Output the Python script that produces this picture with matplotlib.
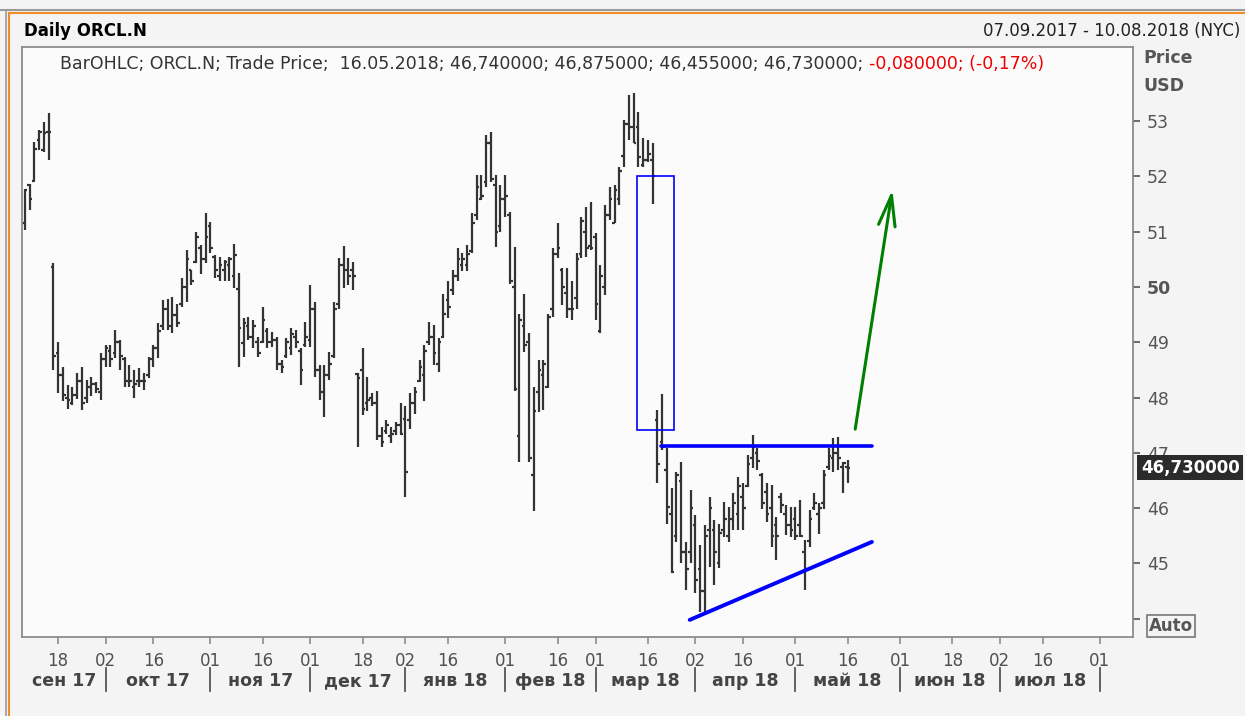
import matplotlib
matplotlib.use("Agg")
import matplotlib.pyplot as plt
from matplotlib.lines import Line2D
from matplotlib.patches import Rectangle
import numpy as np
import pandas as pd

# trading calendar of the chart (NYSE days)
first_day = "2017-09-07"
last_day = "2018-08-10"
nyse_holidays = ["2017-11-23", "2017-12-25", "2018-01-01", "2018-01-15",
                 "2018-02-19", "2018-03-30", "2018-05-28", "2018-07-04"]

# daily OHLC (07.09.2017 .. 16.05.2018)
opens = [51.15, 51.84, 51.92, 52.66, 52.48, 52.81, 50.37, 48.80, 48.40, 48.00,
         47.90, 48.05, 48.30, 48.00, 48.20, 48.25, 48.10, 48.70, 48.85, 48.80,
         49.00, 48.70, 48.30, 48.20, 48.30, 48.30, 48.40, 48.70, 48.90, 49.30,
         49.60, 49.30, 49.50, 49.70, 50.00, 50.30, 50.45, 50.70, 50.50, 51.10,
         50.55, 50.20, 50.30, 50.40, 50.20, 49.97, 48.98, 49.30, 49.10, 49.00,
         49.00, 49.20, 49.00, 49.05, 48.60, 48.75, 48.90, 49.10, 48.85, 48.95,
         49.05, 49.60, 48.50, 48.10, 48.40, 48.75, 49.70, 50.40, 50.30, 50.30,
         48.43, 48.50, 47.90, 48.00, 47.90, 47.30, 47.40, 47.30, 47.40, 47.50,
         47.62, 47.60, 47.90, 48.30, 48.40, 49.00, 49.10, 48.60, 49.10, 49.76,
         49.94, 50.20, 50.40, 50.40, 50.65, 51.30, 51.60, 51.90, 52.60, 51.85,
         51.10, 51.60, 51.30, 50.00, 47.30, 49.30, 49.00, 46.60, 48.10, 48.40,
         48.20, 49.60, 50.60, 50.30, 49.90, 49.60, 49.80, 50.60, 51.00, 50.75,
         50.90, 49.20, 50.00, 51.30, 51.15, 51.60, 52.36, 52.95, 52.90, 52.90,
         52.20, 52.30, 52.30, 47.60, 47.20, 46.69, 45.90, 45.50, 46.50, 45.20,
         45.20, 45.70, 44.90, 44.50, 45.60, 45.60, 45.00, 45.60, 45.50, 45.80,
         45.90, 46.20, 46.40, 46.90, 47.00, 46.60, 46.30, 46.00, 45.70, 46.20,
         45.90, 45.70, 45.80, 45.70, 45.20, 45.40, 46.00, 45.90, 46.10, 46.75,
         46.90, 47.00, 46.75, 46.74]
highs = [51.78, 51.87, 52.63, 52.84, 52.99, 53.14, 50.44, 49.01, 48.56, 48.23,
         48.20, 48.44, 48.56, 48.32, 48.38, 48.29, 48.80, 48.95, 48.95, 49.22,
         49.04, 48.74, 48.59, 48.50, 48.53, 48.44, 48.74, 48.95, 49.34, 49.76,
         49.79, 49.82, 49.70, 50.16, 50.67, 50.31, 51.00, 50.76, 51.33, 51.18,
         50.58, 50.55, 50.49, 50.55, 50.78, 50.25, 49.43, 49.46, 49.40, 49.10,
         49.64, 49.25, 49.19, 49.10, 48.68, 49.07, 49.25, 49.22, 48.89, 49.37,
         50.04, 49.73, 48.59, 48.59, 48.83, 49.73, 50.52, 50.74, 50.52, 50.46,
         48.44, 48.89, 48.38, 48.08, 48.11, 47.47, 47.59, 47.47, 47.56, 47.90,
         47.84, 48.08, 48.20, 48.68, 48.95, 49.37, 49.31, 49.07, 49.88, 50.10,
         50.30, 50.70, 50.61, 50.76, 51.33, 52.02, 52.02, 52.75, 52.81, 52.02,
         51.84, 52.02, 51.36, 50.73, 49.52, 49.88, 49.16, 48.20, 48.68, 48.68,
         49.52, 50.70, 51.15, 50.34, 50.34, 50.10, 50.61, 51.27, 51.45, 51.54,
         50.97, 50.40, 51.48, 51.81, 51.84, 52.17, 53.02, 53.47, 53.50, 53.17,
         52.69, 52.66, 52.60, 47.77, 48.07, 47.08, 46.36, 46.66, 46.84, 45.39,
         46.33, 45.87, 45.33, 45.69, 46.21, 45.78, 45.72, 46.12, 46.03, 46.27,
         46.57, 46.45, 46.96, 47.32, 47.08, 46.63, 46.45, 46.42, 45.84, 46.27,
         46.06, 46.03, 46.03, 46.15, 45.42, 45.97, 46.27, 46.09, 46.69, 47.08,
         47.26, 47.29, 46.84, 46.875]
lows = [51.03, 51.39, 51.90, 52.48, 52.45, 52.30, 48.50, 48.08, 47.93, 47.80,
        47.86, 47.98, 47.77, 47.90, 48.02, 48.08, 47.96, 48.56, 48.56, 48.71,
        48.50, 48.20, 48.20, 48.00, 48.20, 48.14, 48.35, 48.56, 48.71, 49.22,
        49.22, 49.16, 49.28, 49.64, 49.73, 50.04, 50.43, 50.24, 50.43, 50.61,
        50.16, 50.10, 50.10, 50.10, 49.98, 48.56, 48.74, 49.04, 48.89, 48.74,
        48.98, 48.89, 48.92, 48.50, 48.44, 48.71, 48.77, 48.89, 48.23, 48.92,
        48.92, 48.38, 47.96, 47.65, 48.32, 48.71, 49.61, 49.98, 50.04, 49.94,
        47.11, 47.68, 47.75, 47.84, 47.23, 47.11, 47.35, 47.17, 47.32, 47.32,
        46.21, 47.44, 47.71, 48.29, 47.93, 48.95, 48.59, 48.47, 49.07, 49.43,
        49.85, 50.10, 50.28, 50.28, 50.61, 51.21, 51.57, 51.81, 51.90, 50.73,
        50.99, 51.27, 50.06, 48.11, 46.84, 48.83, 46.84, 45.94, 47.74, 47.77,
        48.17, 49.46, 50.52, 49.67, 49.43, 49.40, 49.61, 50.52, 50.55, 50.67,
        49.40, 49.16, 49.85, 51.21, 51.15, 51.48, 52.17, 52.66, 52.60, 52.17,
        52.17, 52.26, 51.50, 46.45, 47.05, 45.72, 44.82, 45.39, 45.00, 44.52,
        45.00, 44.46, 44.13, 44.13, 44.94, 44.61, 44.91, 45.48, 45.39, 45.60,
        45.60, 45.60, 46.39, 46.72, 46.69, 45.99, 45.75, 45.30, 45.06, 45.91,
        45.51, 45.48, 45.42, 45.48, 44.52, 45.30, 45.97, 45.54, 45.99, 46.69,
        46.66, 46.69, 46.27, 46.455]
closes = [51.76, 51.59, 52.50, 52.81, 52.78, 52.81, 48.75, 48.40, 48.05, 47.95,
          48.05, 48.30, 47.90, 48.20, 48.25, 48.15, 48.70, 48.90, 48.70, 49.00,
          48.75, 48.30, 48.30, 48.25, 48.30, 48.30, 48.70, 48.90, 49.20, 49.60,
          49.30, 49.50, 49.35, 50.00, 50.50, 50.10, 50.90, 50.50, 50.90, 50.70,
          50.30, 50.40, 50.45, 50.50, 50.57, 49.26, 49.34, 49.10, 49.30, 48.80,
          49.40, 49.00, 49.05, 48.60, 48.55, 49.00, 49.15, 49.00, 48.50, 49.10,
          49.60, 48.50, 48.10, 48.40, 48.60, 49.60, 50.40, 50.30, 50.20, 50.20,
          48.35, 47.80, 47.95, 47.90, 47.30, 47.20, 47.50, 47.35, 47.50, 47.35,
          46.66, 47.90, 48.10, 48.55, 48.85, 49.10, 48.80, 49.00, 49.52, 49.64,
          50.20, 50.50, 50.50, 50.60, 51.15, 51.80, 51.65, 52.60, 51.95, 51.00,
          51.60, 51.65, 50.10, 48.15, 49.40, 48.95, 46.90, 47.75, 48.50, 48.60,
          49.45, 50.60, 50.70, 50.00, 49.60, 49.60, 50.50, 51.20, 50.70, 50.70,
          49.70, 50.20, 51.30, 51.60, 51.75, 52.10, 52.95, 52.90, 52.60, 52.35,
          52.30, 52.40, 52.00, 46.80, 47.10, 46.03, 44.85, 46.60, 45.20, 44.90,
          46.00, 44.70, 44.50, 45.50, 46.00, 45.20, 45.55, 45.80, 45.80, 46.10,
          46.40, 46.00, 46.80, 47.10, 46.85, 46.10, 45.90, 45.50, 45.50, 46.05,
          45.70, 45.60, 45.50, 45.50, 44.90, 45.80, 46.10, 46.00, 46.60, 46.95,
          47.00, 46.90, 46.81, 46.73]

month_labels = ["сен 17", "окт 17", "ноя 17", "дек 17", "янв 18", "фев 18",
                "мар 18", "апр 18", "май 18", "июн 18", "июл 18"]
price_ticks = [44, 45, 46, 47, 48, 49, 50, 51, 52, 53]
last_quote = "46,730000"
title = "Daily ORCL.N"
date_range = "07.09.2017 - 10.08.2018 (NYC)"
header = "BarOHLC; ORCL.N; Trade Price;  16.05.2018; 46,740000; 46,875000; 46,455000; 46,730000; "
header_change = "-0,080000; (-0,17%)"

# the trader's drawings: (bar index, price)
box_x = [128.7, 136.5]
box_y = [47.41, 52.0]
resistance_x = [133.8, 178.1]
resistance_y = [47.12, 47.12]
support_x = [139.8, 178.1]
support_y = [43.98, 45.39]
arrow_x = [174.5, 182.5]
arrow_y = [47.38, 51.81]

days = pd.bdate_range(first_day, last_day, freq="C", holidays=nyse_holidays)
idx = np.arange(len(opens))

W, H = 1245, 716
fig = plt.figure(figsize=(W / 100, H / 100), dpi=100, facecolor="#f4f4f4")
ax = fig.add_axes([22 / W, 1 - 637 / H, (1133 - 22) / W, (637 - 47) / H])
ax.set_facecolor("#fbfbfb")

bar_col = "#333333"
ax.vlines(idx, lows, highs, color=bar_col, lw=1.6)
ax.hlines(opens, idx - 0.55, idx, color=bar_col, lw=1.6)
ax.hlines(closes, idx, idx + 0.55, color=bar_col, lw=1.6)

ax.set_xlim(-0.6, 233)
ax.set_ylim(43.67, 54.34)

# drawings
ax.add_patch(Rectangle((box_x[0], box_y[0]), box_x[1] - box_x[0], box_y[1] - box_y[0],
                       fill=False, ec="#0000ff", lw=1.2, zorder=4))
ax.plot(resistance_x, resistance_y, color="#0000ff", lw=2.6, solid_capstyle="round", zorder=4)
ax.plot(support_x, support_y, color="#0000ff", lw=2.8, solid_capstyle="round", zorder=4)
ax.annotate("", xy=(arrow_x[1], arrow_y[1]), xytext=(arrow_x[0], arrow_y[0]),
            arrowprops=dict(arrowstyle="->,head_length=1.1,head_width=0.3",
                            color="#008000", lw=2.2, mutation_scale=20), zorder=4)

# frame
for s in ax.spines.values():
    s.set_color("#8c8c8c")
    s.set_linewidth(1.3)

# y axis on the right
ax.yaxis.tick_right()
ylabels = ["" if v == 44 else str(v) for v in price_ticks]
ax.set_yticks(price_ticks)
ax.set_yticklabels(ylabels)
ax.tick_params(axis="y", direction="out", length=5, width=1.2, colors="#555555",
               labelsize=12.5, pad=5)
for t in ax.get_yticklabels():
    if t.get_text() == "50":
        t.set_fontweight("bold")

# x axis: trading-day ticks
ser = pd.Series(np.arange(len(days)), index=days)
day_ticks, month_starts = [], []
for _, grp in ser.groupby(days.to_period("M")):
    d = grp.index
    if d[0].day <= 3:
        day_ticks.append(grp.iloc[0])
        month_starts.append(grp.iloc[0])
    mid = grp[d.day >= 16]
    if len(mid):
        day_ticks.append(mid.iloc[0])
day_ticks = sorted(day_ticks)
ax.set_xticks(day_ticks)
ax.set_xticklabels([days[i].strftime("%d") for i in day_ticks],
                   family=["Liberation Sans Narrow", "DejaVu Sans"])
ax.tick_params(axis="x", direction="out", length=5, width=1.2, colors="#8c8c8c",
               labelsize=12, pad=6)
for t in ax.get_xticklabels():
    t.set_color("#505050")

# month labels and separators
trans = ax.get_xaxis_transform()
bounds = [ax.get_xlim()[0]] + month_starts
for k, lab in enumerate(month_labels):
    xc = (bounds[k] + bounds[k + 1]) / 2
    ax.text(xc, -0.0835, lab, transform=trans, ha="center", va="baseline",
            fontsize=12.5, fontweight="bold", color="#444444")
for m in month_starts:
    ax.plot([m, m], [-0.052, -0.091], transform=trans, color="#555555", lw=1.3,
            clip_on=False)

# last price box
ax.text(1.007, 46.73, last_quote, transform=ax.get_yaxis_transform(), ha="left",
        va="center", fontsize=12, fontweight="bold", color="white", zorder=10,
        bbox=dict(boxstyle="square,pad=0.2", fc="#2b2b2b", ec="none"), clip_on=False)

# right side captions
fig.text(1143 / W, 1 - 58 / H, "Price", ha="left", va="center", fontsize=12.5,
         fontweight="bold", color="#555555")
fig.text(1143 / W, 1 - 86 / H, "USD", ha="left", va="center", fontsize=12.5,
         fontweight="bold", color="#555555")
fig.text(1149 / W, 1 - 626 / H, "Auto", ha="left", va="center", fontsize=12,
         fontweight="bold", color="#555555",
         bbox=dict(boxstyle="square,pad=0.1", fc="none", ec="#777777", lw=1.2))

# title row
fig.text(24 / W, 1 - 31 / H, title, ha="left", va="center", fontsize=12,
         fontweight="bold", color="black")
fig.text(1240 / W, 1 - 31 / H, date_range, ha="right", va="center", fontsize=12,
         color="#222222")

# header inside the chart
t1 = fig.text(60 / W, 1 - 64 / H, header, ha="left", va="center", fontsize=12.5,
              color="#333333")
ax.annotate(header_change, xy=(1, 0), xycoords=t1, ha="left", va="bottom",
            fontsize=12.5, color="#ee0000")

# outer frame lines
fig.add_artist(Line2D([0, 1], [1 - 10 / H, 1 - 10 / H], color="#9a9a9a", lw=1.5))
fig.add_artist(Line2D([9 / W, 1], [1 - 13 / H, 1 - 13 / H], color="#f28c28", lw=1.5))
fig.add_artist(Line2D([9 / W, 9 / W], [0, 1 - 13 / H], color="#f28c28", lw=1.5))
fig.add_artist(Line2D([6 / W, 6 / W], [0, 1 - 10 / H], color="#9a9a9a", lw=1.2))

fig.savefig("out.png", dpi=100, facecolor=fig.get_facecolor())
